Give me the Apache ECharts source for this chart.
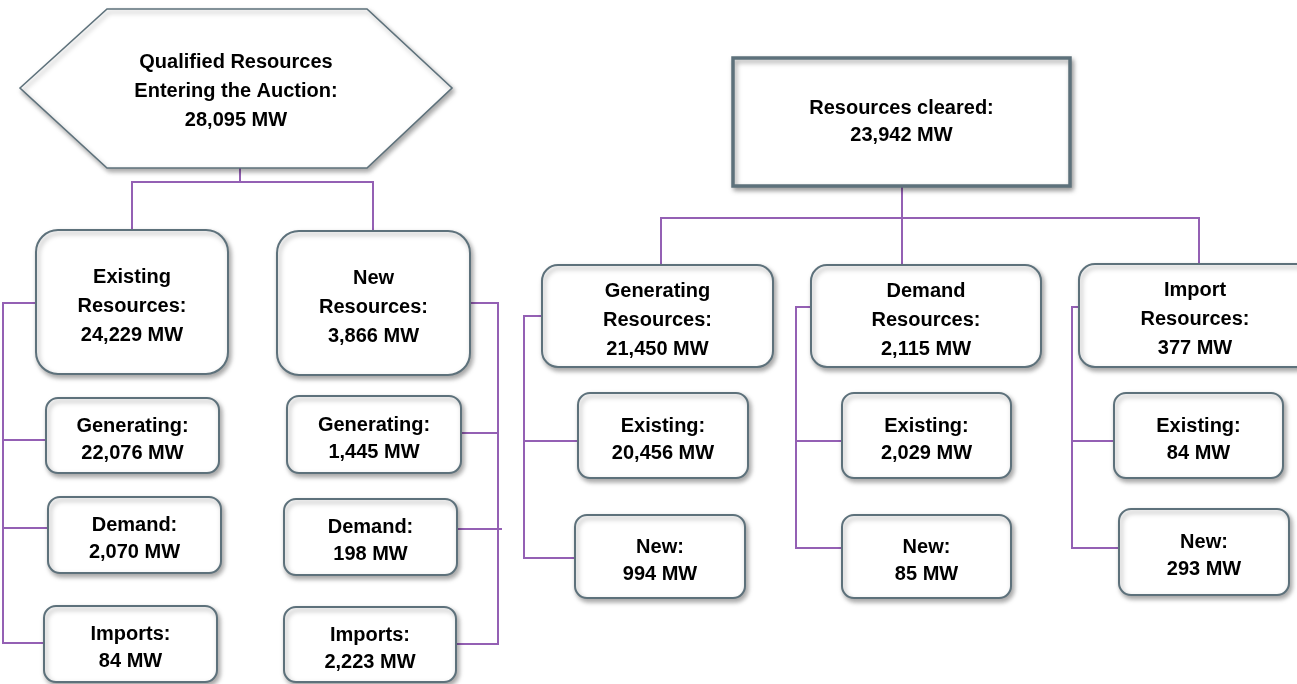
<!DOCTYPE html>
<html lang="en">
<head>
    <meta charset="utf-8">
    <script src="https://cdn.jsdelivr.net/npm/echarts@6/dist/echarts.min.js"></script>
    <style>
        html, body { margin: 0; padding: 0; background: #fff; }
        #chart { width: 1297px; height: 684px; }
    </style>
</head>
<body>
<div id="chart"></div>

<script type="text/javascript">
    // values (MW)
    var qualifiedTotal = 28095;
    var qualifiedGroups = ['Existing', 'New'];
    var qualifiedGroupMW = [24229, 3866];
    var qualifiedTypes = ['Generating', 'Demand', 'Imports'];
    var qualifiedExistingMW = [22076, 2070, 84];
    var qualifiedNewMW = [1445, 198, 2223];

    var clearedTotal = 23942;
    var clearedGroups = ['Generating', 'Demand', 'Import'];
    var clearedGroupMW = [21450, 2115, 377];
    var clearedStatus = ['Existing', 'New'];
    var clearedExistingMW = [20456, 2029, 84];
    var clearedNewMW = [994, 85, 293];

    // layout (diagram space = pixels, y down)
    var hexPoints = [[20, 88], [107, 9], [367, 9], [452, 88], [367, 168], [107, 168]];
    var qGroupRects = [[36, 230, 228, 374], [277, 231, 470, 375]];
    var qTypeRects = [
        [[46, 398, 219, 473], [48, 497, 221, 573], [44, 606, 217, 682]],
        [[287, 396, 461, 473], [284, 499, 457, 575], [284, 607, 456, 682]]
    ];
    var clearedRect = [733, 58, 1070, 186];
    var cGroupRects = [[542, 265, 773, 367], [811, 265, 1041, 367], [1079, 264, 1311, 367]];
    var cStatusRects = [
        [[578, 393, 748, 478], [575, 515, 745, 598]],
        [[842, 393, 1011, 478], [842, 515, 1011, 598]],
        [[1114, 393, 1283, 478], [1119, 509, 1289, 595]]
    ];
    var connectors = [
        [[240, 168], [240, 182]],
        [[132, 230], [132, 182], [373, 182], [373, 231]],
        [[36, 303], [3, 303], [3, 643], [44, 643]],
        [[3, 440], [46, 440]],
        [[3, 528], [48, 528]],
        [[470, 303], [498, 303], [498, 644], [456, 644]],
        [[461, 433], [498, 433]],
        [[457, 529], [502, 529]],
        [[902, 186], [902, 264]],
        [[661, 265], [661, 218], [1199, 218], [1199, 264]],
        [[542, 316], [524, 316], [524, 558], [575, 558]],
        [[524, 441], [578, 441]],
        [[811, 307], [796, 307], [796, 548], [842, 548]],
        [[796, 441], [842, 441]],
        [[1079, 307], [1072, 307], [1072, 548], [1119, 548]],
        [[1072, 441], [1114, 441]]
    ];

    function mw(v) {
        return v.toLocaleString('en-US') + ' MW';
    }

    // build boxes: [x1, y1, x2, y2, radius, borderWidth, textIndex]
    var boxData = [];
    var boxText = [];
    function addBox(rect, r, bw, text) {
        boxText.push(text);
        boxData.push([rect[0], rect[1], rect[2], rect[3], r, bw, boxText.length - 1]);
    }
    qualifiedGroups.forEach(function (g, i) {
        addBox(qGroupRects[i], 22, 2, g + '\nResources:\n' + mw(qualifiedGroupMW[i]));
        var vals = i === 0 ? qualifiedExistingMW : qualifiedNewMW;
        qualifiedTypes.forEach(function (t, j) {
            addBox(qTypeRects[i][j], 12, 2, t + ':\n' + mw(vals[j]));
        });
    });
    addBox(clearedRect, 0, 3.5, 'Resources cleared:\n' + mw(clearedTotal));
    clearedGroups.forEach(function (g, i) {
        addBox(cGroupRects[i], 16, 2, g + '\nResources:\n' + mw(clearedGroupMW[i]));
        addBox(cStatusRects[i][0], 12, 2, clearedStatus[0] + ':\n' + mw(clearedExistingMW[i]));
        addBox(cStatusRects[i][1], 12, 2, clearedStatus[1] + ':\n' + mw(clearedNewMW[i]));
    });

    var FONT = '"Liberation Sans", Arial, sans-serif';
    var BORDER = '#5d717b';
    var LINE = '#9460b4';

    var chart = echarts.init(document.getElementById('chart'));

    var option = {
        animation: false,
        grid: { left: 0, right: 0, top: 0, bottom: 0 },
        xAxis: { type: 'value', min: 0, max: 1297, show: false },
        yAxis: { type: 'value', min: 0, max: 684, inverse: true, show: false },
        series: [
            {
                type: 'lines',
                coordinateSystem: 'cartesian2d',
                polyline: true,
                z: 1,
                lineStyle: { color: LINE, width: 2, opacity: 1 },
                data: connectors.map(function (c) { return { coords: c }; })
            },
            {
                // hexagon
                type: 'custom',
                z: 2,
                data: [[0]],
                renderItem: function (params, api) {
                    var pts = hexPoints.map(function (p) { return api.coord(p); });
                    var c = api.coord([236, 91]);
                    return {
                        type: 'group',
                        children: [{
                            type: 'polygon',
                            shape: { points: pts },
                            style: {
                                fill: '#fff', stroke: BORDER, lineWidth: 1.6,
                                shadowBlur: 5, shadowOffsetX: 2, shadowOffsetY: 3,
                                shadowColor: 'rgba(0,0,0,0.35)'
                            }
                        }, {
                            type: 'text',
                            style: {
                                text: 'Qualified Resources\nEntering the Auction:\n' + mw(qualifiedTotal),
                                x: c[0], y: c[1], align: 'center', verticalAlign: 'middle',
                                font: 'bold 20px ' + FONT, lineHeight: 29, fill: '#000'
                            }
                        }]
                    };
                }
            },
            {
                type: 'custom',
                z: 3,
                data: boxData,
                renderItem: function (params, api) {
                    var p1 = api.coord([api.value(0), api.value(1)]);
                    var p2 = api.coord([api.value(2), api.value(3)]);
                    var r = api.value(4);
                    var text = boxText[api.value(6)];
                    var lines = text.split('\n').length;
                    return {
                        type: 'group',
                        children: [{
                            type: 'rect',
                            shape: { x: p1[0], y: p1[1], width: p2[0] - p1[0], height: p2[1] - p1[1], r: r },
                            style: {
                                fill: '#fff', stroke: BORDER, lineWidth: api.value(5),
                                shadowBlur: 5, shadowOffsetX: 2, shadowOffsetY: 3,
                                shadowColor: 'rgba(0,0,0,0.35)'
                            }
                        }, {
                            type: 'text',
                            style: {
                                text: text,
                                x: (p1[0] + p2[0]) / 2,
                                y: (p1[1] + p2[1]) / 2 + (r ? 4 : 0),
                                align: 'center', verticalAlign: 'middle',
                                font: 'bold 20px ' + FONT,
                                lineHeight: lines === 3 ? 29 : 27,
                                fill: '#000'
                            }
                        }]
                    };
                }
            }
        ]
    };

    chart.setOption(option);
</script>
</body>
</html>
